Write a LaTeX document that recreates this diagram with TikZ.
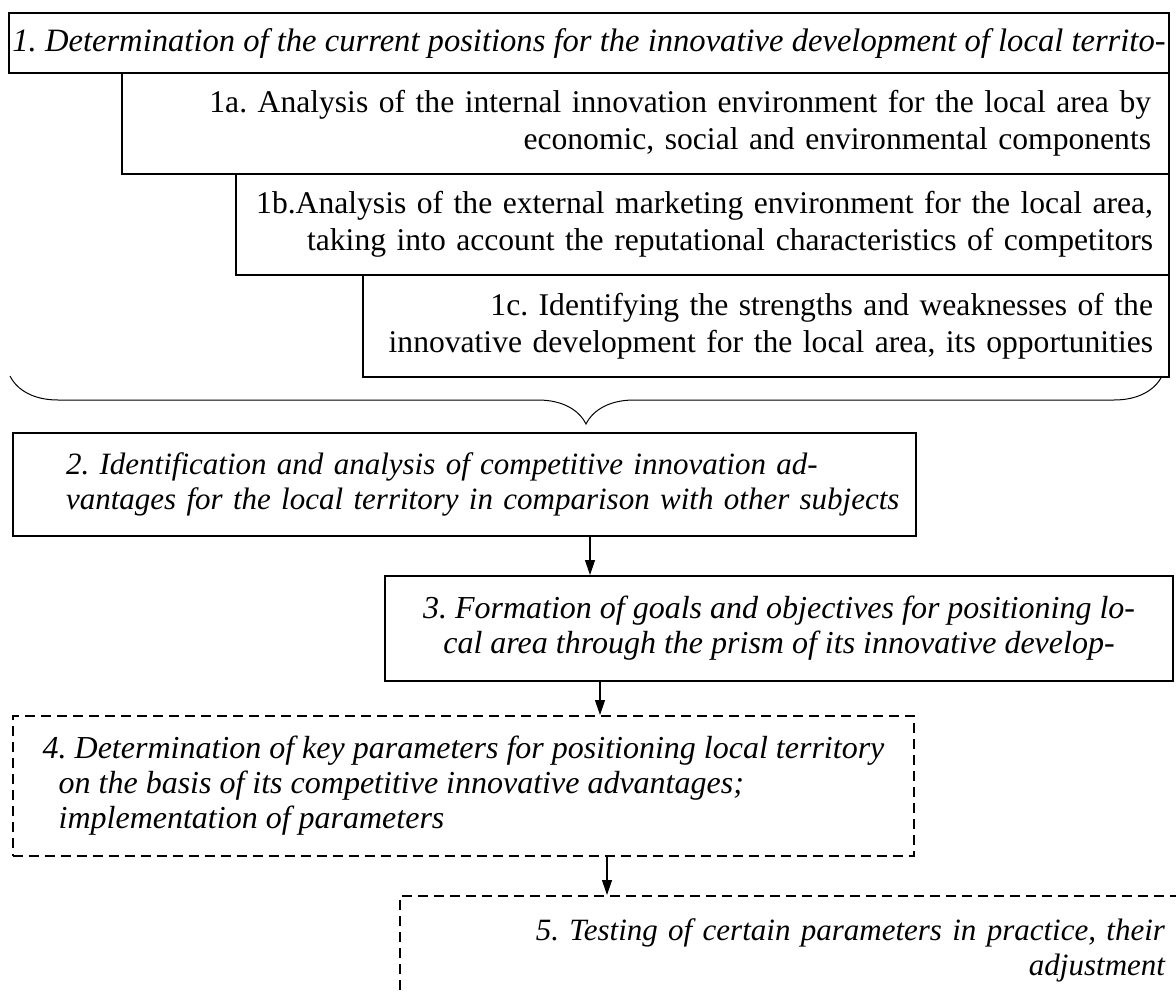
\documentclass[tikz,border=0pt]{standalone}
\usepackage{fontspec}
\setmainfont{Liberation Serif}
\usetikzlibrary{arrows.meta,decorations.pathreplacing}
\frenchspacing

\begin{document}
\begin{tikzpicture}[x=0.5pt,y=-0.5pt,
		box/.style={draw,line width=1pt,anchor=north west,inner ysep=0pt,font=\fontsize{15.8}{18.5}\selectfont},
		ital/.style={font=\fontsize{16}{17.5}\selectfont\itshape},
		dbox/.style={dash pattern=on 5pt off 3pt},
		arr/.style={-{Triangle[length=7.5pt,width=5pt]},line width=0.6pt},
		brc/.style={decorate,decoration={brace,mirror,amplitude=24pt},line width=0.5pt}]
		
		\useasboundingbox (0,0) rectangle (1176,995);
		\clip (0,0) rectangle (1176,995);
		
		% stage 1 and its steps
		\node (b1) at (8,12) [box,ital,font=\fontsize{16.3}{17.5}\selectfont\itshape,minimum width=580pt,minimum height=30pt,inner xsep=1pt] {1. Determination of the current positions for the innovative development of local territo-};
		\node (b1a) at (121,72) [box,align=right,text width=505.5pt,inner xsep=9pt,minimum height=50.5pt] {1a. Analysis of the internal innovation environment for the local area by\\economic, social and environmental components};
		\node (b1b) at (235,173) [box,align=right,text width=450.5pt,inner xsep=8pt,minimum height=50.5pt] {1b.Analysis of the external marketing environment for the local area,\\taking into account the reputational characteristics of competitors};
		\node (b1c) at (362,274) [box,align=right,text width=387pt,inner xsep=8pt,minimum height=51pt] {1c. Identifying the strengths and weaknesses of the\\innovative development for the local area, its opportunities};
		
		\coordinate (brL) at (10,376);
		\coordinate (brR) at (1162,376);
		\draw[brc] (brL) -- (brR);
		
		% stages 2 - 5
		\node (b2) at (12,432) [box,ital,font=\fontsize{15.5}{17.5}\selectfont\itshape,align=right,text width=434.5pt,inner xsep=8.5pt,minimum height=51.5pt] {\makebox[416.5pt][s]{2. Identification and analysis of competitive innovation ad-}\\\makebox[416.5pt][s]{vantages for the local territory in comparison with other subjects}};
		\node (b3) at (384,575) [box,ital,align=center,minimum width=394pt,inner xsep=6pt,minimum height=52.5pt] {3. Formation of goals and objectives for positioning lo-\\cal area through the prism of its innovative develop-};
		\node (b4) at (12,715) [box,dbox,ital,align=left,minimum width=450.5pt,inner xsep=6pt,minimum height=70pt] {4. Determination of key parameters for positioning local territory\\\hspace*{8pt}on the basis of its competitive innovative advantages;\\\hspace*{8pt}implementation of parameters};
		\node (b5) at (399,895) [box,dbox,ital,font=\fontsize{15.5}{17.5}\selectfont\itshape,align=right,text width=373.5pt,inner xsep=9pt,inner ysep=11.5pt,text depth=45pt] {5. Testing of certain parameters in practice, their\\adjustment};
		
		\coordinate (a23) at (590,0);
		\coordinate (a34) at (600,0);
		\coordinate (a45) at (607,0);
		\draw[arr] (b2.south -| a23) -- (b3.north -| a23);
		\draw[arr] (b3.south -| a34) -- (b4.north -| a34);
		\draw[arr] (b4.south -| a45) -- (b5.north -| a45);
		
	\end{tikzpicture}
\end{document}
